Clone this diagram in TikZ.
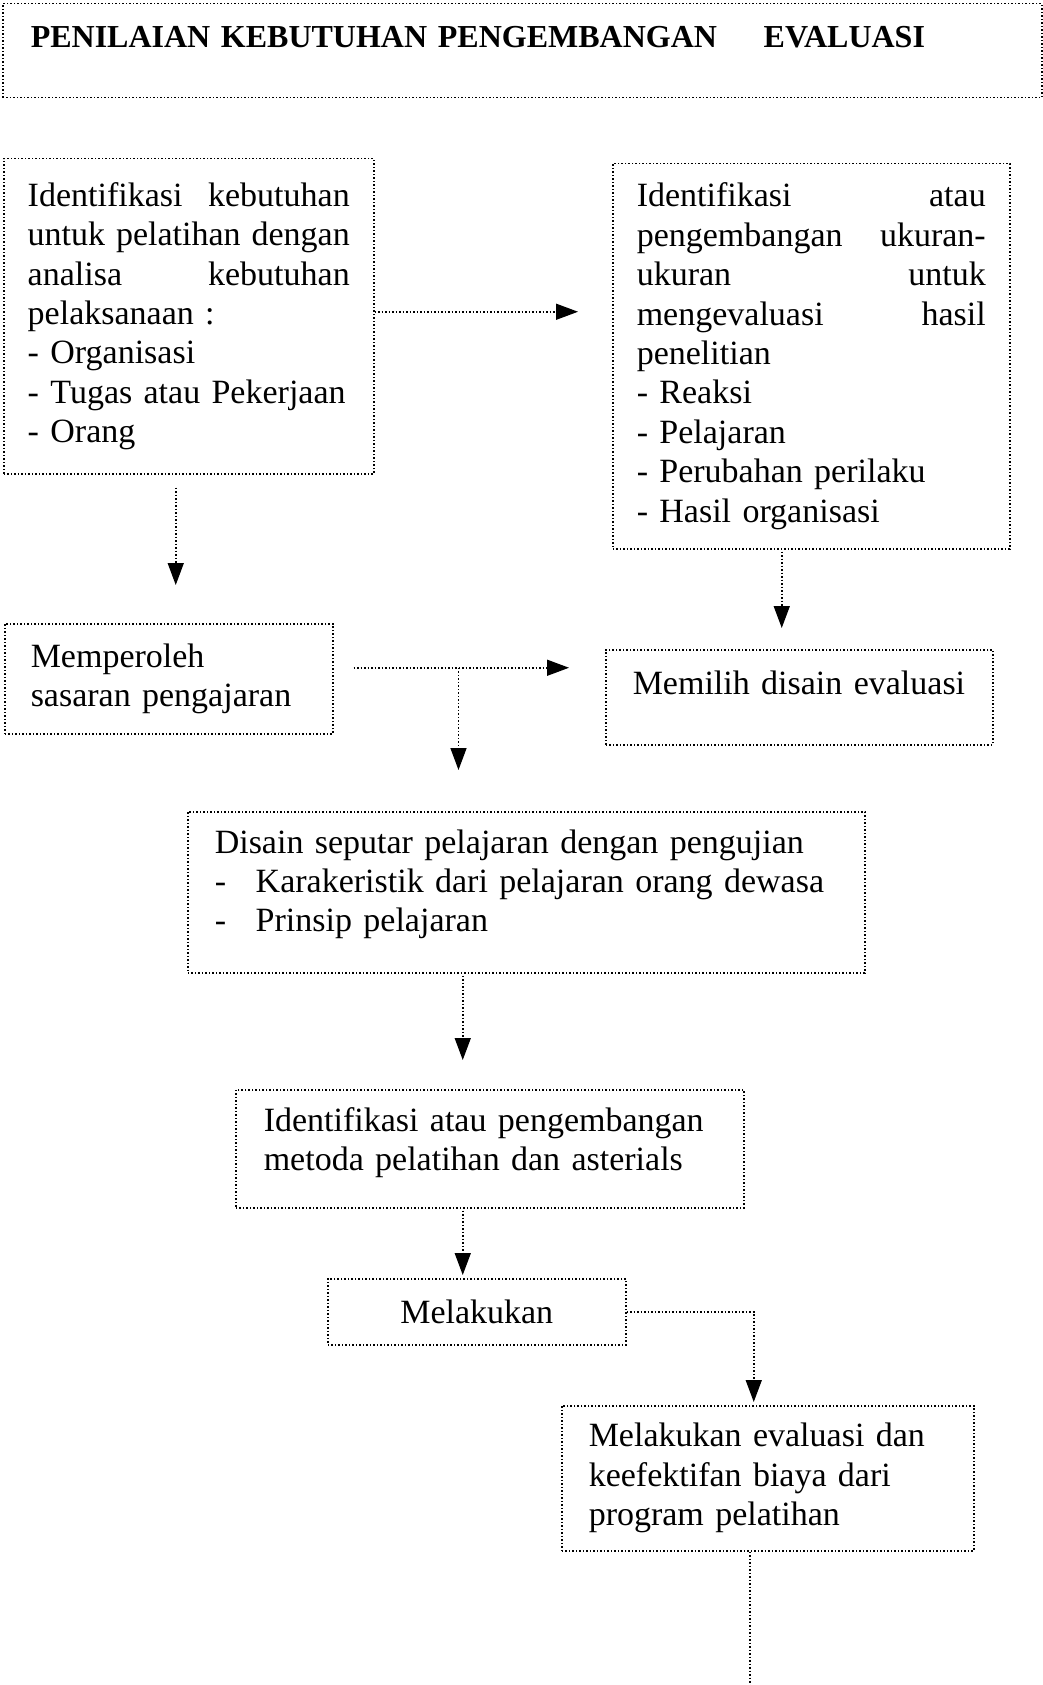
\documentclass[tikz,border=0pt]{standalone}
\usepackage{fontspec}
\setmainfont{Liberation Serif}
\usepackage{tikz}
\usetikzlibrary{
	arrows.meta,
	positioning,
	calc
}

\begin{document}
\begin{tikzpicture}[
    x=0.5pt, y=-0.5pt,
    box/.style={
        rectangle,
        draw=black,
        densely dotted,
        line width=0.75pt,
        inner sep=2pt,
        anchor=north west,
        font=\fontsize{17}{19.7}\selectfont,
        align=left
    },
    head_frame/.style={
        box,
        minimum width=519.5pt,
        minimum height=47pt,
        text width=491.5pt,
        text height=12pt,
        text depth=15pt,
        font=\bfseries\fontsize{16}{19}\selectfont
    },
    flow_edge/.style={
        -{Triangle[length=11pt,width=8pt]},
        densely dotted,
        line width=0.75pt,
        draw=black
    },
    plain_edge/.style={
        densely dotted,
        line width=0.75pt,
        draw=black
    }
]
    \useasboundingbox (0,0) rectangle (1043,1685);

    % ====== header ======
    \node[head_frame] (header) at (2,3) {\makebox[366.5pt][l]{PENILAIAN KEBUTUHAN PENGEMBANGAN}EVALUASI};

    % ====== top row: needs and measures ======
    \node[box, minimum width=185pt, minimum height=157.5pt, text width=161pt] (need_id) at (3,158) {Identifikasi\hfill kebutuhan\\
        untuk\hfill pelatihan\hfill dengan\\
        analisa\hfill kebutuhan\\
        pelaksanaan :\\
        - Organisasi\\
        - Tugas atau Pekerjaan\\
        - Orang};
    \node[box, minimum width=198.5pt, minimum height=192.5pt, text width=174.5pt] (measure_id) at (612,163) {Identifikasi\hfill atau\\
        pengembangan\hfill ukuran-\\
        ukuran\hfill untuk\\
        mengevaluasi\hfill hasil\\
        penelitian\\
        - Reaksi\\
        - Pelajaran\\
        - Perubahan perilaku\\
        - Hasil organisasi};

    % ====== second row ======
    \node[box, minimum width=164pt, minimum height=55pt, text width=138pt] (objective) at (4,623) {Memperoleh\\ sasaran pengajaran};
    \node[box, minimum width=193.5pt, minimum height=47.5pt, text width=166.5pt, text height=13pt, text depth=15.3pt] (eval_design) at (605,649) {Memilih disain evaluasi};

    % ====== middle column ======
    \node[box, minimum width=338.5pt, minimum height=80.5pt, text width=311.5pt, text depth=50.9pt] (course_design) at (187,811) {Disain seputar pelajaran dengan pengujian\\
        \makebox[20.5pt][l]{-}Karakeristik dari pelajaran orang dewasa\\
        \makebox[20.5pt][l]{-}Prinsip pelajaran};
    \node[box, minimum width=254pt, minimum height=59pt, text width=226pt, text depth=29.2pt] (method_id) at (235,1089) {Identifikasi atau pengembangan\\ metoda pelatihan dan asterials};
    \node[box, minimum width=149pt, minimum height=33pt, align=center] (conduct) at (327,1278) {Melakukan};
    \node[box, minimum width=206pt, minimum height=72.5pt, text width=179pt] (eval_cost) at (561,1405) {Melakukan evaluasi dan\\ keefektifan biaya dari\\ program pelatihan};

    % connectors
    \draw[flow_edge, shorten >=17pt] ([yshift=2.25pt]need_id.east) -- ([yshift=2.25pt]need_id.east -| measure_id.west);
    \draw[flow_edge, shorten <=6.5pt, shorten >=19pt] ([xshift=-6.5pt]need_id.south) -- ([xshift=-6.5pt]need_id.south |- objective.north);
    \draw[flow_edge, shorten <=1pt, shorten >=10.5pt] ([xshift=-14.75pt]measure_id.south) -- ([xshift=-14.75pt]measure_id.south |- eval_design.north);
    \draw[flow_edge, shorten <=10pt, shorten >=18pt] ([yshift=5.5pt]objective.east) -- ([yshift=5.5pt]objective.east -| eval_design.west);

    % branch down to the course design
    \coordinate (split) at ([xshift=62.5pt,yshift=5.5pt]objective.east);
    \draw[flow_edge, shorten >=20.5pt] (split) -- (split |- course_design.north);

    \draw[flow_edge, shorten <=1pt, shorten >=14.5pt] ([xshift=-13.5pt]method_id.north |- course_design.south) -- ([xshift=-13.5pt]method_id.north);
    \draw[flow_edge, shorten <=1pt, shorten >=1.5pt] ([xshift=-13.5pt]method_id.south) -- ([xshift=-13.5pt]method_id.south |- conduct.north);
    \draw[flow_edge, shorten >=1.5pt] (conduct.east) -| ([xshift=-7pt]eval_cost.north);

    % line running off the page
    \coordinate (page_end) at ([xshift=-9pt]eval_cost.south |- 0,1685);
    \draw[plain_edge] ([xshift=-9pt]eval_cost.south) -- (page_end);

\end{tikzpicture}
\end{document}
